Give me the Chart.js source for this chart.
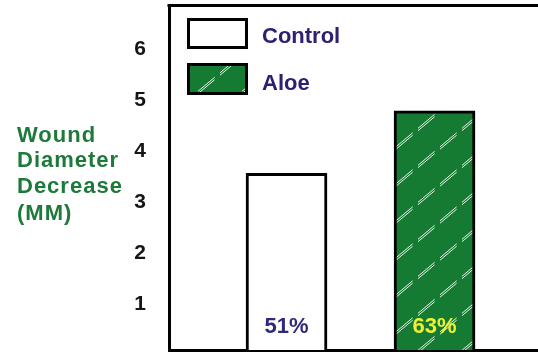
<!DOCTYPE html>
<html>
<head>
<meta charset="utf-8">
<script src="https://cdn.jsdelivr.net/npm/chart.js@4/dist/chart.umd.min.js"></script>
<style>
  html, body { margin: 0; padding: 0; background: #ffffff; }
  canvas { display: block; }
</style>
</head>
<body>
<canvas id="chart" width="538" height="352"></canvas>
<script>
// Wound diameter decrease by treatment group
const categories = ['Control', 'Aloe'];
const decreaseMM = [3.57, 4.8];
const percentLabels = ['51%', '63%'];
const yTicks = [1, 2, 3, 4, 5, 6];
const axisTitleLines = ['Wound', 'Diameter', 'Decrease', '(MM)'];

const GREEN = '#157a32';
const FONT = '"Liberation Sans", Arial, sans-serif';

// Diagonal double-dashed hatch over green, tiled seamlessly
function makeHatch() {
  const w = 44, h = 37;
  const c = document.createElement('canvas');
  c.width = w; c.height = h;
  const g = c.getContext('2d');
  g.fillStyle = GREEN;
  g.fillRect(0, 0, w, h);
  const L = Math.hypot(w, h);
  g.strokeStyle = 'rgba(240,250,240,0.95)';
  g.lineWidth = 1;
  g.setLineDash([L / 2 - 7, 7]);
  for (const off of [-1.2, 1.2]) {
    for (const k of [-1, 0, 1]) {
      g.beginPath();
      g.moveTo(-w, 2 * h + k * h + off);
      g.lineTo(2 * w, -h + k * h + off);
      g.stroke();
    }
  }
  return g.createPattern(c, 'repeat');
}

const ctx = document.getElementById('chart').getContext('2d');
const hatch = makeHatch();
const fills = ['#ffffff', hatch];
const labelColors = ['#2e2a78', '#eef232'];

const datasets = categories.map((name, i) => ({
  label: name,
  data: [{ x: i + 1, y: decreaseMM[i] }],
  backgroundColor: fills[i],
  borderColor: '#000000',
  borderWidth: 3,
  borderSkipped: false,
  barThickness: 81,
  grouped: false
}));

function noPadding(scale) {
  scale.paddingTop = 0;
  scale.paddingBottom = 0;
  scale.paddingLeft = 0;
  scale.paddingRight = 0;
}

// Horizontal multi-line axis caption on the left
const captionPlugin = {
  id: 'caption',
  afterDraw(chart) {
    const c = chart.ctx;
    c.save();
    c.fillStyle = '#1d7a3a';
    c.font = 'bold 22px ' + FONT;
    c.letterSpacing = '1px';
    c.textAlign = 'left';
    c.textBaseline = 'alphabetic';
    const baselines = [142, 167, 193, 220];
    axisTitleLines.forEach((t, i) => c.fillText(t, 17, baselines[i]));
    c.restore();
  }
};

// Top frame line of the plot box
const framePlugin = {
  id: 'frame',
  afterDraw(chart) {
    const { left, top } = chart.chartArea;
    const c = chart.ctx;
    c.save();
    c.strokeStyle = '#000';
    c.lineWidth = 3;
    c.beginPath();
    c.moveTo(left - 1.5, top);
    c.lineTo(chart.width, top);
    c.stroke();
    c.restore();
  }
};

// Legend boxes drawn inside the plot area
const legendPlugin = {
  id: 'innerLegend',
  afterDraw(chart) {
    const c = chart.ctx;
    const boxes = [{ y: 19.5, h: 28 }, { y: 64.5, h: 29 }];
    const baselines = [42.5, 90];
    c.save();
    chart.data.datasets.forEach((ds, i) => {
      c.fillStyle = ds.backgroundColor;
      c.fillRect(188.5, boxes[i].y, 58, boxes[i].h);
      c.strokeStyle = '#000';
      c.lineWidth = 3;
      c.strokeRect(188.5, boxes[i].y, 58, boxes[i].h);
      c.fillStyle = '#2b2170';
      c.font = 'bold 22px ' + FONT;
      c.textAlign = 'left';
      c.textBaseline = 'alphabetic';
      c.fillText(ds.label, 262, baselines[i]);
    });
    c.restore();
  }
};

// Percentage labels at the foot of each bar
const percentPlugin = {
  id: 'percent',
  afterDatasetsDraw(chart) {
    const c = chart.ctx;
    c.save();
    c.font = 'bold 22px ' + FONT;
    c.textAlign = 'center';
    c.textBaseline = 'alphabetic';
    chart.data.datasets.forEach((ds, i) => {
      const bar = chart.getDatasetMeta(i).data[0];
      c.fillStyle = labelColors[i];
      c.fillText(percentLabels[i], bar.x, 333);
    });
    c.restore();
  }
};

new Chart(ctx, {
  type: 'bar',
  data: { datasets },
  options: {
    responsive: false,
    animation: false,
    events: [],
    layout: { padding: { left: 0, right: 0, top: 5.5, bottom: 0 } },
    plugins: {
      legend: { display: false },
      tooltip: { enabled: false },
      title: { display: false }
    },
    scales: {
      x: {
        type: 'linear',
        offset: false,
        min: 0.206,
        max: 2.699,
        grid: { display: false, offset: false },
        border: { display: true, color: '#000', width: 3 },
        ticks: { display: false },
        afterFit(scale) { scale.height = 2; noPadding(scale); }
      },
      y: {
        type: 'linear',
        min: 0.108,
        max: 6.863,
        grid: { display: false },
        border: { display: true, color: '#000', width: 3 },
        ticks: {
          color: '#151515',
          font: { family: FONT, size: 21, weight: 'bold' },
          padding: 15
        },
        afterBuildTicks(scale) {
          scale.ticks = yTicks.map(v => ({ value: v }));
        },
        afterFit(scale) { scale.width = 169; noPadding(scale); }
      }
    }
  },
  plugins: [captionPlugin, framePlugin, legendPlugin, percentPlugin]
});
</script>
</body>
</html>
